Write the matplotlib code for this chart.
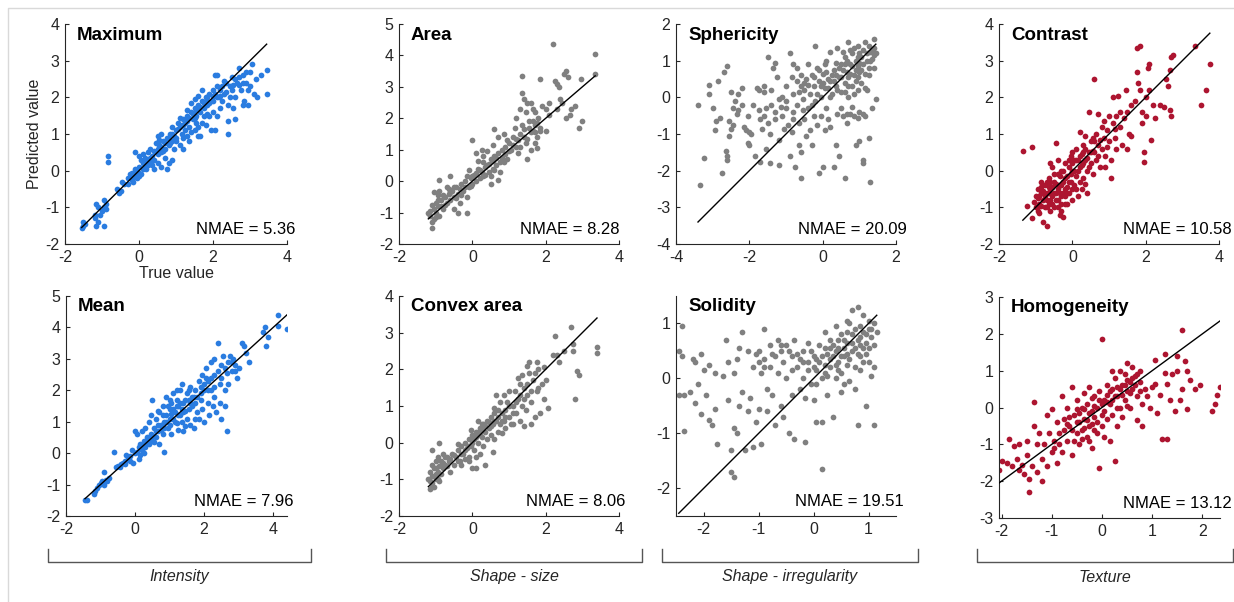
import matplotlib
matplotlib.use("Agg")
import matplotlib.pyplot as plt
import numpy as np
from matplotlib.lines import Line2D

plt.rcParams['font.family'] = ['Liberation Sans', 'DejaVu Sans']
plt.rcParams['axes.unicode_minus'] = False

# ---- data (true value, predicted value) ----
max_pts = [(-1.55,-1.55),(-1.5,-1.4),(-1.45,-1.45),(-1.5,-1.5),(-1.2,-1.2),(-1.15,-0.9),(-1.1,-1.0),(-1.2,-1.3),
    (-1.1,-1.4),(-1.15,-1.5),(-1.0,-1.1),(-0.95,-0.8),(-0.9,-0.9),(-0.95,-1.5),(-1.05,-1.2),(-0.85,0.4),(-0.85,0.25),
    (-0.95,-1.0),(-0.9,-1.05),(-0.6,-0.5),(-0.55,-0.6),(-0.5,-0.55),(-0.45,-0.3),(-0.4,-0.35),(-0.3,-0.2),(-0.25,-0.1),
    (-0.2,-0.25),(-0.15,-0.3),(-0.1,-0.05),(-0.05,0.0),(0.0,-0.15),(0.05,-0.1),(-0.1,0.05),(-0.05,-0.2),(-0.15,-0.15),
    (-0.1,0.5),(0.0,0.4),(0.1,0.2),(0.15,0.35),(0.2,0.3),(0.25,0.5),(0.3,0.2),(0.35,0.4),(0.4,0.3),(0.45,0.5),(0.5,0.6),
    (0.5,0.2),(0.55,0.7),(0.6,0.5),(0.65,0.8),(0.7,0.6),(0.75,0.9),(0.8,0.7),(0.85,1.0),(0.9,0.8),(0.95,0.6),(1.0,1.1),
    (0.4,0.05),(0.6,0.1),(0.75,0.05),(0.8,0.2),(0.9,0.3),(0.7,0.35),(0.3,0.6),(0.45,0.75),(0.55,0.85),(0.2,0.05),
    (0.1,0.45),(0.6,1.0),(0.5,0.95),(0.35,0.15),(0.0,0.1),(0.25,0.15),(1.0,0.8),(1.05,1.3),(1.1,1.2),(1.15,1.0),
    (1.2,1.4),(1.25,1.3),(1.3,1.5),(1.35,1.2),(1.4,1.6),(1.45,1.4),(1.5,1.7),(1.55,1.5),(1.6,1.8),(1.65,1.6),(1.7,1.9),
    (1.75,1.7),(1.8,2.0),(1.85,1.8),(1.9,2.1),(1.95,1.9),(2.0,2.2),(1.2,0.9),(1.3,0.95),(1.4,1.05),(1.5,1.1),(1.6,1.2),
    (1.7,1.3),(1.8,1.25),(1.9,1.5),(2.0,1.6),(1.1,0.7),(1.2,0.6),(1.35,0.8),(1.65,0.95),(1.95,1.1),(1.0,0.9),(1.5,1.95),
    (1.6,2.05),(1.7,2.2),(1.4,1.85),(1.3,1.65),(1.1,1.45),(0.9,1.2),(2.05,2.6),(2.1,2.3),(2.15,2.0),(2.2,2.2),(2.25,1.9),
    (2.3,2.1),(2.35,2.4),(2.4,1.8),(2.45,2.0),(2.5,2.2),(2.55,1.7),(2.6,2.0),(2.65,2.4),(2.7,2.8),(2.75,2.2),(2.8,2.6),
    (2.85,1.9),(2.9,2.4),(2.95,2.2),(3.0,2.7),(3.05,2.9),(3.1,2.1),(3.15,2.5),(3.2,2.0),(3.3,2.6),(3.45,2.75),(3.45,2.1),
    (2.5,2.55),(2.6,1.4),(2.4,1.35),(2.4,1.0),(2.05,1.1),(2.1,2.6),(2.3,2.45),(2.8,1.8),(2.9,2.7),(2.95,1.8),(2.7,2.55),
    (3.0,2.3),(2.2,1.7),(2.0,1.9),(2.1,1.5),(1.6,0.95),
    (0.05,0.3),(0.15,0.1),(0.3,0.35),(0.4,0.55),(0.5,0.45),(0.65,0.55),(0.7,0.75),(0.8,0.9),(0.9,1.0),(0.95,0.95),
    (1.05,1.15),(1.15,1.25),(1.2,1.25),(1.3,1.35),(1.35,1.45),(1.45,1.55),(1.5,1.45),(1.55,1.65),(1.65,1.75),(1.75,1.85),
    (1.8,1.9),(1.85,2.0),(1.9,1.85),(2.0,2.05),(2.05,2.1),(2.1,2.0),(2.2,2.05),(2.25,2.3),(2.35,2.15),(2.45,2.3),
    (2.55,2.35),(2.6,2.5),(2.7,2.35),(2.8,2.4),(1.75,1.5),(1.85,1.55),(1.55,1.3),(1.25,1.1),(0.85,0.75),(0.6,0.65),
    (-0.3,-0.35),(-0.2,-0.05),(0.0,-0.05),(0.1,0.05)]

area_pts = [(-1.2,-1.0),(-1.1,-1.5),(-1.1,-1.3),(-1.15,-1.1),(-1.05,-0.9),(-1.0,-0.7),(-1.05,-1.2),(-1.0,-1.0),
    (-0.95,-0.8),(-0.9,-1.1),(-0.85,-0.6),(-0.9,-0.3),(-0.8,-0.9),(-0.75,-0.5),(-0.7,-0.7),(-0.7,-0.2),(-0.65,-0.4),
    (-0.6,-0.6),(-0.55,-0.3),(-0.5,-0.5),(-0.45,-0.2),(-0.4,-0.4),(-0.35,-0.7),(-0.3,-0.1),(-0.25,-0.3),(-0.2,0.0),
    (-0.15,-0.5),(-0.1,-0.2),(-0.05,0.1),(0.0,-0.1),(-0.9,0.05),(-0.6,0.15),(-0.4,-1.0),(-0.15,-1.0),(-0.5,-0.9),
    (-1.05,-0.35),(-0.95,-0.45),(0.05,0.2),(0.1,0.0),(0.15,0.4),(0.2,0.1),(0.25,0.3),(0.3,0.6),(0.35,0.2),(0.4,0.5),
    (0.45,0.3),(0.5,0.7),(0.55,0.4),(0.6,0.8),(0.65,0.5),(0.7,0.9),(0.75,0.3),(0.8,1.0),(0.85,0.6),(0.9,1.1),(0.95,0.7),
    (1.0,1.2),(0.0,1.3),(0.1,0.9),(0.25,1.0),(0.4,0.95),(0.55,1.15),(0.6,1.65),(0.7,1.4),(0.85,1.5),(0.5,-0.1),
    (0.7,0.05),(0.5,0.15),(0.3,0.8),(0.15,0.65),(-0.1,0.35),(0.95,1.3),(1.05,1.0),(1.1,1.4),(1.15,1.7),(1.2,2.0),
    (1.25,1.3),(1.3,2.3),(1.35,1.8),(1.4,2.6),(1.45,1.2),(1.5,2.5),(1.55,1.9),(1.6,1.0),(1.65,1.6),(1.7,2.2),(1.75,1.4),
    (1.8,2.0),(1.85,1.7),(1.9,2.4),(2.0,2.3),(2.1,2.5),(1.5,0.7),(1.25,0.9),(1.35,2.8),(1.7,1.8),(1.6,2.5),(1.45,2.2),
    (1.7,1.2),(1.3,1.5),(1.2,1.1),(1.55,1.7),(1.75,1.05),(1.85,1.6),(1.65,2.3),(1.4,1.4),(2.2,4.35),(2.25,3.2),
    (2.3,3.1),(2.35,3.0),(2.45,2.5),(2.5,3.4),(2.55,3.5),(2.6,3.3),(2.65,2.1),(2.7,2.3),(2.8,2.4),(2.55,2.0),(2.95,3.25),
    (3.0,1.9),(2.9,1.7),(3.35,4.05),(3.35,3.4),(2.3,2.3),(2.0,1.6),(2.1,2.1),(2.4,2.6),(1.85,3.25),(1.35,3.35),
    (-1.15,-0.95),(-1.1,-0.75),(-1.0,-1.15),(-0.95,-0.6),(-0.85,-0.8),(-0.8,-0.45),(-0.75,-0.75),(-0.65,-0.25),
    (-0.6,-0.35),(-0.5,-0.2),(-0.45,-0.55),(-0.35,-0.25),(-0.3,-0.45),(-0.2,-0.2),(-0.15,0.15),(-0.05,-0.15),(0.0,0.15),
    (0.1,0.25),(0.2,0.35),(0.3,0.15),(0.35,0.45),(0.45,0.55),(0.55,0.65),(0.6,0.35),(0.65,0.75),(0.75,0.6),(0.8,0.75),
    (0.9,0.85),(1.0,0.95),(1.1,1.15),(1.2,1.35),(1.3,1.1),(1.4,1.65),(1.5,1.35),(1.6,1.55),(1.7,1.55),(1.65,1.9),
    (1.75,1.85)]

spher_pts = [(-3.4,-0.2),(-3.35,-2.4),(-3.25,-1.65),(-3.1,0.35),(-3.1,0.1),(-3.0,-0.3),(-2.95,-0.9),(-2.9,-0.65),
    (-2.85,0.45),(-2.8,-0.55),(-2.75,-2.05),(-2.7,0.7),(-2.65,-1.45),(-2.6,-1.6),(-2.6,-1.7),(-2.6,0.85),(-2.55,-0.65),
    (-2.55,-1.05),(-2.5,0.15),(-2.5,-0.85),(-2.45,-0.3),(-2.45,-0.75),(-2.4,-0.1),(-2.35,-0.45),(-2.3,0.1),(-2.2,0.25),
    (-2.2,-0.2),(-2.15,-0.8),(-2.1,-0.9),(-2.05,-0.5),(-2.05,-1.25),(-2.0,-0.95),(-2.0,-1.3),(-1.95,-1.0),(-1.9,-0.2),
    (-1.85,-1.6),(-1.8,0.25),(-1.75,0.2),(-1.75,-0.35),(-1.7,-0.6),(-1.7,-1.75),(-1.65,-0.85),(-1.6,0.15),(-1.6,-0.5),
    (-1.55,-0.3),(-1.55,-1.4),(-1.5,1.1),(-1.5,-0.7),(-1.45,-1.0),(-1.45,-1.8),(-1.4,-0.2),(-1.4,0.2),(-1.35,0.8),
    (-1.3,-0.4),(-1.3,-0.6),(-1.25,0.55),(-1.2,-1.15),(-1.2,-1.85),(-1.15,-0.25),(-1.1,0.0),(-1.1,-0.5),(-1.05,-0.85),
    (-1.0,0.3),(-1.0,-0.1),(-0.95,-0.75),(-0.9,1.2),(-0.9,-1.6),(-0.85,0.55),(-0.85,-0.95),(-0.8,-0.4),(-0.8,0.1),
    (-0.75,-1.9),(-0.7,0.45),(-0.7,-0.2),(-0.65,-0.7),(-0.65,-1.3),(-0.6,-1.5),(-0.6,-2.2),(-0.6,0.6),(-0.55,-0.05),
    (-0.5,0.2),(-0.5,-0.6),(-0.45,0.5),(-0.45,-1.05),(-0.4,0.9),(-0.4,-0.3),(-0.35,0.1),(-0.35,-0.9),(-0.3,0.6),
    (-0.3,-1.3),(-0.25,0.3),(-0.25,-0.5),(-0.2,1.4),(-0.2,-0.1),(-0.15,0.8),(-0.15,-0.75),(-0.1,0.45),(-0.1,-2.05),
    (-0.05,0.0),(-0.05,-0.5),(0.0,0.65),(0.0,-1.9),(0.05,0.25),(0.05,-0.9),(0.1,1.0),(0.1,-0.3),(0.15,0.5),(0.15,-0.6),
    (0.2,1.25),(0.2,-0.8),(0.25,0.1),(0.3,0.75),(0.3,-1.9),(0.35,-1.3),(0.35,0.3),(0.4,1.35),(0.4,-0.45),(0.45,0.55),
    (0.45,-1.6),(0.5,0.9),(0.5,0.15),(0.55,-0.5),(0.6,1.1),(0.6,0.4),(0.6,-2.2),(0.65,0.7),(0.65,-0.7),(0.7,1.5),
    (0.7,0.0),(0.75,0.9),(0.75,-0.45),(0.8,0.3),(0.8,1.2),(0.85,0.6),(0.85,-0.5),(0.9,1.0),(0.9,-1.3),(0.95,0.2),
    (0.95,1.4),(1.0,0.7),(1.0,-0.4),(1.0,-1.2),(1.05,1.1),(1.05,0.4),(1.1,-1.7),(1.1,-1.8),(1.1,0.9),(1.15,1.5),
    (1.15,-0.5),(1.2,0.2),(1.2,1.2),(1.25,-1.1),(1.25,0.6),(1.3,-2.3),(1.3,1.0),(1.35,1.3),(1.35,-0.3),(1.4,1.6),
    (1.4,1.15),(1.45,-0.05),(1.45,1.2),(1.4,0.8),(-0.8,0.9),(-0.7,0.8),(-0.6,0.3),(-0.3,-0.2),(0.2,0.0),(0.55,1.25),
    (0.95,0.55),(0.85,0.1),(0.7,0.55),(0.3,0.45),(-0.05,0.3),(0.45,0.8),(0.6,0.15),(1.15,0.25),(1.25,0.8),(-1.3,0.95),
    (-1.6,0.3),(-2.3,-0.35),(-0.55,-0.35),(0.1,0.7),(0.75,1.3),(0.95,0.85),
    (-0.4,0.35),(-0.25,0.55),(-0.1,0.75),(0.0,0.4),(0.05,0.9),(0.15,0.25),(0.25,0.6),(0.35,0.95),(0.4,0.2),(0.5,0.55),
    (0.55,0.75),(0.65,1.0),(0.7,0.3),(0.75,0.65),(0.8,0.85),(0.85,1.35),(0.9,0.45),(0.95,1.1),(1.0,0.95),(1.05,0.75),
    (1.1,1.3),(1.15,0.65),(1.2,1.0),(1.25,1.4),(1.3,1.25),(1.35,1.05),(1.4,1.35),(1.0,1.2),(0.9,0.75),(0.6,0.9),
    (0.35,0.6),(-0.15,0.1),(0.2,0.45),(0.5,-0.3),(0.8,-0.25),(1.1,-0.45),(0.95,-0.55),(0.65,-0.45),(-0.5,0.4),
    (-0.65,0.15),(-1.0,-0.3),(-1.2,-0.05),(-0.8,-0.6)]

contr_pts = [(-1.35,0.55),(-1.1,0.65),(-1.25,-0.95),(-1.1,-1.3),(-1.0,-1.0),(-1.0,-0.7),(-0.95,-0.5),(-0.9,-0.9),
    (-0.9,-1.15),(-0.85,-0.6),(-0.85,-0.3),(-0.8,-1.4),(-0.8,-0.8),(-0.75,-0.4),(-0.75,-1.0),(-0.7,-0.6),(-0.7,-1.5),
    (-0.65,-0.2),(-0.65,-0.9),(-0.6,-0.5),(-0.6,-1.1),(-0.55,-0.7),(-0.55,0.1),(-0.5,-0.3),(-0.5,-1.0),(-0.45,-0.6),
    (-0.45,0.75),(-0.4,-0.1),(-0.4,-0.8),(-0.35,-0.4),(-0.35,-1.2),(-0.3,0.0),(-0.3,-0.7),(-0.25,-0.3),(-0.25,-1.25),
    (-0.2,0.2),(-0.2,-0.5),(-0.15,-0.15),(-0.15,-0.9),(-0.1,0.1),(-0.1,-0.6),(-0.05,-0.3),(-0.05,0.4),(0.0,0.0),
    (0.0,-0.8),(0.05,0.3),(0.05,-0.4),(0.1,0.6),(0.1,-0.15),(0.15,0.0),(0.15,-0.7),(0.2,0.4),(0.2,1.05),(0.25,0.15),
    (0.25,-0.5),(0.3,0.7),(0.3,-0.2),(0.35,0.3),(0.35,0.95),(0.4,0.0),(0.4,-0.6),(0.45,0.5),(0.45,1.6),(0.5,0.8),
    (0.5,0.2),(0.55,0.9),(0.55,-0.1),(0.6,2.5),(0.6,0.5),(0.65,1.0),(0.65,0.3),(0.7,1.55),(0.7,0.7),(0.75,0.1),
    (0.8,1.2),(0.8,0.6),(0.85,0.9),(0.85,1.35),(0.9,0.4),(0.95,1.1),(1.0,0.8),(1.0,1.5),(1.05,0.3),(1.05,-0.2),
    (1.1,1.3),(1.1,2.0),(1.15,0.9),(1.2,1.5),(1.2,0.6),(1.25,2.05),(1.3,1.2),(1.35,0.7),(1.4,1.45),(1.45,2.2),
    (1.5,1.6),(1.5,0.6),(1.55,1.0),(1.6,0.95),(1.7,1.9),(1.75,2.7),(1.75,3.35),(1.85,3.4),(1.8,2.4),(1.85,2.2),
    (1.9,1.6),(1.9,1.3),(1.95,0.5),(1.95,0.25),(2.0,2.0),(2.0,1.5),(2.05,2.8),(2.1,2.9),(2.1,2.2),(2.15,0.85),
    (2.2,1.8),(2.25,1.45),(2.4,1.8),(2.5,1.75),(2.55,2.5),(2.6,2.3),(2.65,2.75),(2.7,1.5),(2.7,3.1),(2.75,3.15),
    (2.65,1.65),(3.35,3.4),(3.5,1.8),(3.65,2.2),(3.75,2.9),(1.6,1.8),(1.3,1.6),(0.9,0.1),(-0.3,-0.9),(-0.55,-0.45),
    (-0.7,-0.3),(-0.95,-0.75),(-0.6,0.2),(-0.2,-0.7),(0.35,-0.35),(0.1,0.3),(-0.4,0.3),(0.3,0.5),(-0.8,-0.55),
    (-0.35,-0.15),(0.0,0.5),(-0.15,-0.45),(0.2,-0.3),(0.55,0.55),(1.15,1.15),(0.75,0.85),(0.95,0.65),
    (-1.05,-0.85),(-0.95,-1.1),(-0.9,-0.7),(-0.85,-0.95),(-0.8,-0.6),(-0.75,-0.7),(-0.7,-0.8),(-0.7,-1.0),(-0.65,-0.6),
    (-0.6,-0.8),(-0.6,-0.3),(-0.55,-0.9),(-0.5,-0.6),(-0.5,-0.1),(-0.45,-0.8),(-0.4,-0.5),(-0.4,-1.0),(-0.35,-0.6),
    (-0.3,-0.4),(-0.3,-1.1),(-0.25,-0.6),(-0.2,-0.2),(-0.2,-0.9),(-0.15,-0.6),(-0.1,-0.3),(-0.1,0.3),(-0.05,-0.1),
    (0.0,-0.5),(0.0,0.2),(0.05,0.0),(0.1,-0.5),(0.15,0.3),(0.2,0.1),(0.25,0.45),(0.3,0.2),(0.35,0.6),(0.4,0.35),
    (0.45,0.1),(0.5,0.5),(0.6,0.8),(0.7,0.4),(-0.25,0.0),(-0.45,-0.35),(-0.65,-0.45),(-0.85,-0.45),(-0.95,-0.95)]

mean_pts = [(-1.45,-1.5),(-1.4,-1.5),(-1.2,-1.3),(-1.15,-1.2),(-1.1,-1.1),(-1.05,-1.0),(-1.0,-0.95),(-0.95,-0.9),
    (-0.9,-1.0),(-0.9,-0.6),(-0.85,-0.85),(-0.8,-0.9),(-0.75,-0.8),(-0.6,0.05),(-0.55,-0.45),(-0.5,-0.4),(-0.45,-0.45),
    (-0.4,-0.35),(-0.35,-0.3),(-0.3,-0.25),(-0.2,-0.2),(-0.25,-0.05),(-0.15,-0.1),(-0.1,0.1),(-0.05,-0.3),(0.0,0.0),
    (0.0,0.7),(0.05,0.6),(0.1,0.2),(0.1,-0.2),(0.15,0.3),(0.2,0.1),(0.2,0.7),(0.25,0.4),(0.3,0.2),(0.3,0.8),(0.35,0.5),
    (0.4,0.3),(0.4,1.0),(0.45,0.6),(0.5,0.4),(0.5,1.7),(0.55,0.8),(0.6,0.5),(0.6,1.1),(0.65,0.7),(0.7,1.3),(0.7,0.3),
    (0.75,0.9),(0.8,1.5),(0.8,0.6),(0.85,1.0),(0.85,0.05),(0.9,1.8),(0.9,1.2),(0.95,0.8),(1.0,1.4),(1.0,0.9),(1.05,1.6),
    (1.05,0.6),(1.1,1.1),(1.1,1.9),(1.15,1.3),(1.2,0.95),(1.2,1.7),(1.25,1.5),(1.3,1.2),(1.3,2.0),(1.35,2.2),(1.35,1.0),
    (1.4,1.6),(1.4,0.7),(1.45,1.35),(1.5,1.9),(1.5,1.1),(1.55,1.7),(1.6,2.1),(1.6,0.9),(1.65,1.5),(1.7,1.8),(1.7,0.8),
    (1.75,2.0),(1.8,1.3),(1.85,2.3),(1.85,1.1),(1.9,1.7),(1.95,2.5),(1.95,1.4),(2.0,2.0),(2.0,1.0),(2.05,2.7),(2.1,1.6),
    (2.1,2.3),(2.15,1.2),(2.2,2.9),(2.2,2.0),(2.25,1.5),(2.3,3.0),(2.3,1.8),(2.35,1.3),(2.4,2.6),(2.4,3.5),(2.45,1.6),
    (2.5,2.8),(2.5,1.1),(2.55,3.1),(2.6,2.0),(2.6,1.5),(2.65,0.7),(2.7,2.9),(2.7,2.2),(2.75,3.1),(2.8,2.6),(2.85,3.0),
    (2.9,2.8),(2.95,2.4),(3.0,2.7),(3.1,3.5),(3.15,3.4),(3.2,3.2),(3.3,2.9),(3.7,3.85),(3.75,4.0),(3.8,3.4),(3.85,3.7),
    (4.15,4.4),(4.15,4.05),(4.4,3.95),(2.3,2.5),(2.05,2.4),(1.55,2.0),(1.9,2.1),(0.65,1.35),(0.45,1.2),(0.95,1.5),
    (1.25,0.75),(1.75,1.1),(2.45,2.2),(2.65,2.55),(1.45,0.85),(0.25,0.0),(0.55,0.35),(0.15,-0.05),
    (-0.3,-0.35),(-0.15,-0.25),(0.05,0.05),(0.15,0.15),(0.25,0.25),(0.35,0.35),(0.45,0.45),(0.55,0.55),(0.65,0.9),
    (0.75,0.75),(0.85,0.8),(0.9,1.0),(1.0,1.1),(1.05,1.25),(1.1,1.4),(1.15,1.0),(1.2,1.5),(1.25,1.2),(1.3,1.6),
    (1.35,1.4),(1.4,1.3),(1.45,1.7),(1.55,1.4),(1.6,1.6),(1.65,1.8),(1.75,1.6),(1.8,1.8),(1.9,1.9),(2.0,2.2),(2.1,2.0),
    (2.2,2.4),(2.3,2.1),(2.5,2.4),(2.6,2.7),(2.8,2.9),(2.9,2.6),(1.0,1.7),(1.2,2.0),(0.8,1.2),(0.6,0.7)]

convex_pts = [(-1.2,-1.0),(-1.15,-1.25),(-1.15,-0.8),(-1.1,-1.1),(-1.1,-0.6),(-1.1,-0.2),(-1.05,-0.9),(-1.05,-1.2),
    (-1.0,-0.7),(-1.0,-1.0),(-0.95,-0.4),(-0.95,-0.8),(-0.9,0.0),(-0.9,-1.05),(-0.85,-0.5),(-0.8,-0.7),(-0.8,-0.3),
    (-0.75,-0.6),(-0.7,-0.4),(-0.65,-0.5),(-0.6,-0.8),(-0.55,-0.3),(-0.5,-0.6),(-0.45,-0.4),(-0.4,-0.2),(-0.35,-0.5),
    (-0.3,-0.1),(-0.25,-0.3),(-0.2,0.0),(-0.2,-0.45),(-0.15,-0.15),(-0.1,0.1),(-0.1,-0.4),(-0.05,-0.1),(0.0,0.2),
    (0.0,-0.7),(0.05,-0.2),(0.1,0.3),(0.1,-0.7),(0.15,0.0),(0.2,0.4),(0.2,-0.3),(0.25,0.15),(0.3,0.5),(0.3,-0.1),
    (0.35,0.3),(0.4,0.6),(0.4,0.1),(0.45,0.4),(0.5,0.7),(0.5,0.2),(0.55,0.5),(0.6,0.8),(0.6,0.1),(0.65,0.6),(0.7,0.9),
    (0.7,0.3),(0.75,1.1),(0.75,0.5),(0.8,0.8),(0.85,0.6),(0.85,1.3),(0.9,0.4),(0.9,0.9),(0.95,1.1),(1.0,0.7),(1.0,1.4),
    (1.05,0.5),(1.1,1.0),(1.15,1.4),(1.2,0.8),(1.25,1.2),(1.3,0.6),(1.3,1.6),(1.35,1.0),(1.4,1.5),(1.45,0.9),(1.5,1.3),
    (1.55,1.9),(1.6,0.5),(1.6,1.1),(1.65,1.7),(1.7,0.7),(1.75,1.4),(1.8,2.0),(1.85,0.8),(1.9,1.6),(1.95,1.2),(2.0,1.7),
    (2.05,0.95),(1.5,2.1),(1.55,2.2),(1.35,1.85),(1.75,2.2),(2.25,2.9),(2.3,2.4),(2.35,2.2),(2.5,2.5),(2.7,3.15),
    (2.75,2.5),(2.75,2.7),(2.8,1.2),(2.85,1.95),(2.9,1.85),(3.4,2.6),(3.4,2.45),(2.2,2.4),(1.95,2.05),(0.6,0.95),
    (0.25,0.5),(-0.05,0.35),(-0.4,-0.05),(0.55,-0.25),(0.35,-0.6),(0.8,0.25),(1.1,0.5),(1.4,0.45),(1.25,1.75),
    (0.65,1.3),(0.15,0.6),
    (-1.15,-1.05),(-1.1,-0.9),(-1.1,-1.2),(-1.05,-0.7),(-1.0,-0.85),(-1.0,-0.5),(-0.95,-1.0),(-0.9,-0.65),(-0.85,-0.85),
    (-0.8,-0.55),(-0.75,-0.4),(-0.7,-0.65),(-0.6,-0.45),(-0.5,-0.35),(-0.4,-0.5),(-0.3,-0.3),(-0.2,-0.2),(-0.1,-0.1),
    (0.0,0.0),(0.05,0.1),(0.1,0.15),(0.15,0.3),(0.2,0.2),(0.25,0.35),(0.35,0.45),(0.45,0.55),(0.5,0.45),(0.6,0.6),
    (0.7,0.7),(0.8,0.6),(0.9,0.7),(1.0,1.0),(1.1,0.8),(1.2,1.1),(1.3,1.3),(1.4,1.2),(1.5,1.6),(1.6,1.4),(1.7,1.9),
    (1.8,1.5),(-0.3,-0.6),(-0.1,-0.5),(0.1,-0.4)]

solid_pts = [(-2.45,0.5),(-2.4,0.95),(-2.45,-0.3),(-2.35,-0.3),(-2.4,0.4),(-2.35,-0.95),(-2.25,-0.25),(-2.2,0.35),
    (-2.15,0.3),(-2.15,-0.45),(-2.1,-0.1),(-2.05,-0.65),(-2.05,0.45),(-2.0,0.15),(-1.95,-0.3),(-1.9,0.25),(-1.9,-0.75),
    (-1.85,-0.85),(-1.8,0.1),(-1.8,-0.55),(-1.75,-1.2),(-1.65,0.05),(-1.6,0.7),(-1.55,0.3),(-1.55,-0.4),(-1.5,-1.3),
    (-1.5,-1.7),(-1.45,-1.8),(-1.45,-0.9),(-1.45,0.1),(-1.4,-1.0),(-1.4,0.35),(-1.35,-0.5),(-1.35,0.55),(-1.3,0.85),
    (-1.3,-0.25),(-1.25,-1.3),(-1.2,0.5),(-1.2,-0.6),(-1.15,-0.35),(-1.1,0.2),(-1.1,-1.25),(-1.05,0.45),(-1.05,-0.8),
    (-1.0,0.5),(-1.0,-0.55),(-0.95,0.1),(-0.95,-1.2),(-0.9,0.9),(-0.9,0.35),(-0.85,-0.2),(-0.85,-0.6),(-0.8,0.6),
    (-0.8,0.2),(-0.75,-0.3),(-0.7,0.4),(-0.7,-0.85),(-0.65,0.7),(-0.65,0.1),(-0.6,-0.5),(-0.55,0.3),(-0.55,-0.7),
    (-0.5,0.6),(-0.5,0.0),(-0.45,-1.0),(-0.4,0.4),(-0.4,-0.3),(-0.35,0.7),(-0.35,-1.1),(-0.3,0.2),(-0.25,-0.2),
    (-0.2,0.5),(-0.2,0.0),(-0.15,-0.35),(-0.15,-1.15),(-0.1,0.3),(-0.1,0.65),(-0.05,-0.1),(0.0,0.4),(0.0,-0.4),
    (0.05,0.15),(0.05,-0.8),(0.1,0.6),(0.1,0.3),(0.15,-0.8),(0.15,-1.65),(0.2,0.1),(0.2,0.85),(0.25,0.45),(0.25,-0.3),
    (0.3,0.7),(0.3,0.2),(0.35,-0.7),(0.35,0.4),(0.4,0.95),(0.4,0.0),(0.45,0.55),(0.45,0.3),(0.5,0.8),(0.5,0.1),
    (0.55,0.4),(0.55,-0.1),(0.6,0.65),(0.6,0.25),(0.65,1.0),(0.65,-0.05),(0.7,0.5),(0.7,0.8),(0.75,0.2),(0.75,-0.2),
    (0.8,0.7),(0.8,-0.85),(0.85,0.4),(0.85,0.95),(0.9,1.15),(0.9,0.55),(0.95,-0.5),(0.95,0.8),(1.0,0.3),(1.0,1.05),
    (1.05,0.05),(1.05,0.9),(1.1,0.2),(1.1,-0.85),(1.1,0.6),(1.15,0.85),(0.7,1.25),(0.8,1.3),(0.6,0.45),(0.3,0.55),
    (-0.25,0.35),(-0.6,0.5),(-0.9,0.2),(0.0,0.2),(0.45,0.15),(0.85,0.15),(0.15,0.0),(-0.4,0.15),(0.95,0.45),(0.55,0.7),
    (-0.6,0.6),(-0.45,0.5),(-0.3,0.45),(-0.2,0.3),(-0.05,0.5),(0.05,0.35),(0.15,0.4),(0.2,0.25),(0.3,0.35),(0.35,0.6),
    (0.4,0.5),(0.45,0.7),(0.5,0.4),(0.55,0.55),(0.6,0.85),(0.65,0.35),(0.7,0.65),(0.75,0.55),(0.75,0.9),(0.8,0.45),
    (0.85,0.75),(0.85,0.6),(0.9,0.85),(0.9,0.3),(0.95,0.65),(1.0,0.9),(1.0,0.55),(1.05,0.75),(1.1,1.0),(0.6,1.05),
    (0.4,0.25),(0.2,0.55),(-0.1,0.15),(0.05,-0.1),(0.25,0.05),(0.5,-0.25),(-0.75,0.45),(-1.0,0.3)]

homog_pts = [(-2.05,-1.7),(-2.0,-1.45),(-1.9,-1.5),(-1.85,-0.85),(-1.8,-1.6),(-1.75,-1.05),(-1.7,-1.4),(-1.65,-1.0),
    (-1.65,-1.7),(-1.6,-1.55),(-1.55,-1.8),(-1.5,-0.9),(-1.5,-1.3),(-1.45,-1.95),(-1.45,-2.3),(-1.4,-1.6),(-1.35,-0.5),
    (-1.35,0.15),(-1.3,-1.0),(-1.3,-1.75),(-1.25,-0.7),(-1.2,-1.4),(-1.2,-2.0),(-1.15,-1.0),(-1.1,-0.2),(-1.1,-1.6),
    (-1.05,-0.7),(-1.0,-1.2),(-1.0,-0.05),(-0.95,-0.9),(-0.9,-1.5),(-0.9,-0.4),(-0.85,-0.7),(-0.8,-1.2),(-0.8,0.3),
    (-0.75,-0.3),(-0.7,-0.9),(-0.7,0.0),(-0.65,-0.5),(-0.6,-1.3),(-0.6,0.55),(-0.55,-0.2),(-0.5,-0.7),(-0.5,0.2),
    (-0.45,-0.4),(-0.45,-1.0),(-0.4,0.0),(-0.4,-0.6),(-0.35,0.4),(-0.35,-0.3),(-0.3,-0.8),(-0.3,0.1),(-0.25,-0.5),
    (-0.25,0.55),(-0.2,-0.1),(-0.2,-1.1),(-0.15,0.3),(-0.15,-0.6),(-0.1,0.0),(-0.1,-0.4),(-0.05,0.45),(-0.05,-1.65),
    (0.0,-0.2),(0.0,1.85),(0.05,0.2),(0.05,-0.8),(0.1,0.6),(0.1,-0.3),(0.15,0.1),(0.15,-0.9),(0.2,0.5),(0.2,-0.2),
    (0.25,0.8),(0.25,-1.45),(0.3,0.3),(0.3,-0.5),(0.35,1.0),(0.35,0.0),(0.4,0.6),(0.4,-0.25),(0.45,0.9),(0.45,0.2),
    (0.5,1.2),(0.5,0.45),(0.55,0.7),(0.55,0.0),(0.6,1.1),(0.6,0.5),(0.65,0.85),(0.7,0.3),(0.7,-0.35),(0.75,0.7),
    (0.8,0.1),(0.8,-0.5),(0.85,0.5),(0.9,0.3),(0.95,0.0),(1.0,0.55),(1.05,1.3),(1.1,-0.15),(1.15,0.35),(1.2,-0.85),
    (1.25,1.45),(1.3,-0.85),(1.3,0.65),(1.35,0.2),(1.4,0.9),(1.45,-0.1),(1.5,1.4),(1.55,0.2),(1.6,2.1),(1.6,0.5),
    (1.65,1.25),(1.7,1.0),(1.7,-0.05),(1.75,0.75),(1.85,0.5),(1.95,0.6),(2.2,-0.1),(2.25,0.1),(2.3,0.35),(2.35,0.55),
    (1.5,1.0),(1.25,0.95),(1.05,0.65),(0.75,1.0),(0.2,1.0),(-0.5,-0.05),(-0.2,0.25),(0.1,0.35),(-0.35,-0.05),
    (-0.65,-0.25),(0.3,0.55),(-0.15,-0.25),
    (-0.6,-0.6),(-0.5,-0.4),(-0.45,-0.15),(-0.4,-0.85),(-0.35,-0.55),(-0.3,-0.35),(-0.25,-0.15),(-0.2,-0.45),
    (-0.15,0.05),(-0.1,-0.7),(-0.05,0.2),(0.0,0.1),(0.05,-0.1),(0.1,0.15),(0.15,0.45),(0.2,0.2),(0.25,0.3),(0.3,0.0),
    (0.35,0.5),(0.4,0.35),(0.45,0.6),(0.5,0.75),(0.55,0.4),(0.6,0.8),(0.65,0.6),(0.7,0.9),(0.75,0.45),(-0.55,-0.9),
    (-0.75,-0.6),(-0.85,-1.0),(-0.95,-1.1),(-0.25,-0.9),(0.0,-0.5),(-0.7,-0.45),(0.5,0.05)]

titles = ["Maximum", "Area", "Sphericity", "Contrast", "Mean", "Convex area", "Solidity", "Homogeneity"]
nmae = [5.36, 8.28, 20.09, 10.58, 7.96, 8.06, 19.51, 13.12]
groups = ["Intensity", "Shape - size", "Shape - irregularity", "Texture"]
panel_data = [max_pts, area_pts, spher_pts, contr_pts, mean_pts, convex_pts, solid_pts, homog_pts]

xlims = [(-2, 4), (-2, 4), (-4, 2), (-2, 4), (-2, 4.4), (-2, 4), (-2.5, 1.5), (-2.05, 2.35)]
ylims = [(-2, 4), (-2, 5), (-4, 2), (-2, 4), (-2, 5), (-2, 4), (-2.5, 1.5), (-3, 3)]
xticks = [[-2, 0, 2, 4], [-2, 0, 2, 4], [-4, -2, 0, 2], [-2, 0, 2, 4],
          [-2, 0, 2, 4], [-2, 0, 2, 4], [-2, -1, 0, 1], [-2, -1, 0, 1, 2]]
yticks = [range(-2, 5), range(-2, 6), range(-4, 3), range(-2, 5),
          range(-2, 6), range(-2, 5), range(-2, 2), range(-3, 4)]

colors = ["#2a7ce0", "#808080", "#808080", "#ad1530"] * 2

W, H = 1234, 602
fig = plt.figure(figsize=(W / 100, H / 100), dpi=100)

# axes boxes in pixels: left, top, width, height
boxes = [(65, 24, 222, 220), (399, 24, 220, 220), (676, 24, 220, 220), (999, 24, 220, 220),
         (66, 296, 221, 220), (399, 296, 220, 220), (676, 296, 220, 220), (999, 297, 221, 221)]
nmae_dx = [8, 0, 11, 13, 7, 6, 8, 12]
axcol = "#262626"

for i in range(8):
    l, t, w, h = boxes[i]
    ax = fig.add_axes([l / W, 1 - (t + h) / H, w / W, h / H])
    pts = np.array(panel_data[i])
    ax.scatter(pts[:, 0], pts[:, 1], s=17, color=colors[i], linewidths=0, zorder=2)
    lo, hi = pts[:, 0].min(), pts[:, 0].max()
    ax.plot([lo, hi], [lo, hi], color="black", lw=1, zorder=3)
    ax.set_xlim(xlims[i])
    ax.set_ylim(ylims[i])
    ax.set_xticks(xticks[i])
    ax.set_yticks(list(yticks[i]))
    for s in ["top", "right"]:
        ax.spines[s].set_visible(False)
    for s in ["left", "bottom"]:
        ax.spines[s].set_color(axcol)
        ax.spines[s].set_linewidth(0.8)
    ax.tick_params(direction="in", length=3, width=0.8, colors=axcol, labelsize=11.5, pad=4)
    ax.patch.set_alpha(0)
    ax.text(12 / w, 1 - 11 / h, titles[i], transform=ax.transAxes, fontsize=13.5,
            fontweight="bold", va="center", ha="left", color="black")
    ax.text(1 + nmae_dx[i] / w, 15 / h, "NMAE = %.2f" % nmae[i], transform=ax.transAxes,
            fontsize=12, va="center", ha="right", color="black")
    if i == 0:
        ax.set_ylabel("Predicted value", fontsize=11.5, color=axcol, labelpad=2)
        ax.set_xlabel("True value", fontsize=11.5, color=axcol, labelpad=1)

# group brackets under the bottom row
brackets = [(48, 311), (386, 642), (662, 918), (977, 1233)]
for (x0, x1), g in zip(brackets, groups):
    fx0, fx1 = x0 / W, x1 / W
    ytop, ybot = 1 - 549 / H, 1 - 562 / H
    fig.add_artist(Line2D([fx0, fx0, fx1, fx1], [ytop, ybot, ybot, ytop],
                          transform=fig.transFigure, color="#555555", lw=1))
    fig.text((fx0 + fx1) / 2, 1 - 577 / H, g, ha="center", va="center",
             fontsize=11.5, style="italic", color=axcol)

# light frame at top and left
fig.add_artist(Line2D([8 / W, 8 / W, 1], [0, 1 - 8 / H, 1 - 8 / H],
                      transform=fig.transFigure, color="#d9d9d9", lw=1))

fig.savefig("out.png", dpi=100)
